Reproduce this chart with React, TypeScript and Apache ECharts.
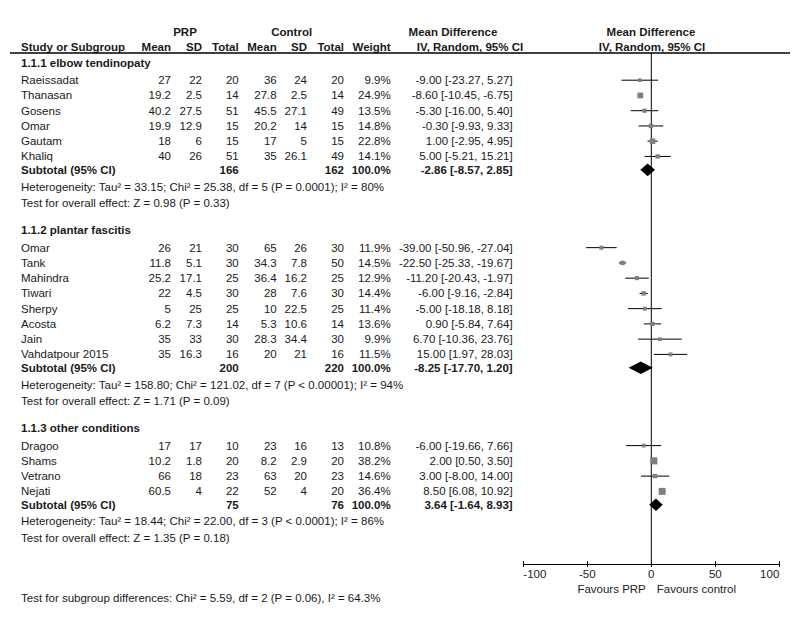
import React, { useEffect, useRef } from "react";
import * as echarts from "echarts";

// ---------- data ----------
const groupTitles = ["1.1.1 elbow tendinopaty", "1.1.2 plantar fascitis", "1.1.3 other conditions"];

const g1Names = ["Raeissadat", "Thanasan", "Gosens", "Omar", "Gautam", "Khaliq"];
const g1PrpMean = [27, 19.2, 40.2, 19.9, 18, 40];
const g1PrpSD = [22, 2.5, 27.5, 12.9, 6, 26];
const g1PrpN = [20, 14, 51, 15, 15, 51];
const g1CtlMean = [36, 27.8, 45.5, 20.2, 17, 35];
const g1CtlSD = [24, 2.5, 27.1, 14, 5, 26.1];
const g1CtlN = [20, 14, 49, 15, 15, 49];
const g1Weight = [9.9, 24.9, 13.5, 14.8, 22.8, 14.1];
const g1MD = [-9.0, -8.6, -5.3, -0.3, 1.0, 5.0];
const g1Lo = [-23.27, -10.45, -16.0, -9.93, -2.95, -5.21];
const g1Hi = [5.27, -6.75, 5.4, 9.33, 4.95, 15.21];

const g2Names = ["Omar", "Tank", "Mahindra", "Tiwari", "Sherpy", "Acosta", "Jain", "Vahdatpour 2015"];
const g2PrpMean = [26, 11.8, 25.2, 22, 5, 6.2, 35, 35];
const g2PrpSD = [21, 5.1, 17.1, 4.5, 25, 7.3, 33, 16.3];
const g2PrpN = [30, 30, 25, 30, 25, 14, 30, 16];
const g2CtlMean = [65, 34.3, 36.4, 28, 10, 5.3, 28.3, 20];
const g2CtlSD = [26, 7.8, 16.2, 7.6, 22.5, 10.6, 34.4, 21];
const g2CtlN = [30, 50, 25, 30, 25, 14, 30, 16];
const g2Weight = [11.9, 14.5, 12.9, 14.4, 11.4, 13.6, 9.9, 11.5];
const g2MD = [-39.0, -22.5, -11.2, -6.0, -5.0, 0.9, 6.7, 15.0];
const g2Lo = [-50.96, -25.33, -20.43, -9.16, -18.18, -5.84, -10.36, 1.97];
const g2Hi = [-27.04, -19.67, -1.97, -2.84, 8.18, 7.64, 23.76, 28.03];

const g3Names = ["Dragoo", "Shams", "Vetrano", "Nejati"];
const g3PrpMean = [17, 10.2, 66, 60.5];
const g3PrpSD = [17, 1.8, 18, 4];
const g3PrpN = [10, 20, 23, 22];
const g3CtlMean = [23, 8.2, 63, 52];
const g3CtlSD = [16, 2.9, 20, 4];
const g3CtlN = [13, 20, 23, 20];
const g3Weight = [10.8, 38.2, 14.6, 36.4];
const g3MD = [-6.0, 2.0, 3.0, 8.5];
const g3Lo = [-19.66, 0.5, -8.0, 6.08];
const g3Hi = [7.66, 3.5, 14.0, 10.92];

const subtotalPrpN = [166, 200, 75];
const subtotalCtlN = [162, 220, 76];
const subtotalMD = [-2.86, -8.25, 3.64];
const subtotalLo = [-8.57, -17.7, -1.64];
const subtotalHi = [2.85, 1.2, 8.93];

const heterogeneityTexts = [
  "Heterogeneity: Tau² = 33.15; Chi² = 25.38, df = 5 (P = 0.0001); I² = 80%",
  "Heterogeneity: Tau² = 158.80; Chi² = 121.02, df = 7 (P < 0.00001); I² = 94%",
  "Heterogeneity: Tau² = 18.44; Chi² = 22.00, df = 3 (P < 0.0001); I² = 86%",
];
const overallEffectTexts = [
  "Test for overall effect: Z = 0.98 (P = 0.33)",
  "Test for overall effect: Z = 1.71 (P = 0.09)",
  "Test for overall effect: Z = 1.35 (P = 0.18)",
];
const subgroupTestText = "Test for subgroup differences: Chi² = 5.59, df = 2 (P = 0.06), I² = 64.3%";

const axisMin = -100;
const axisMax = 100;
const axisInterval = 50;
const favoursLeft = "Favours PRP";
const favoursRight = "Favours control";

// ---------- layout ----------
const W = 800;
const H = 617;
const FONT = "'Liberation Sans', Arial, Helvetica, sans-serif";
const FS = 11.5;
const TXT = "#1a1a1a";
const PLOT_LEFT = 523.3;
const PLOT_RIGHT = 779.3;
const AXIS_Y = 564;
const HEADER_LINE_Y = 53;

const COL = {
  name: 21,
  prpMean: 171,
  prpSD: 202,
  prpN: 238.7,
  ctlMean: 276.7,
  ctlSD: 307,
  ctlN: 344,
  weight: 390.7,
  md: 512.7,
};

type Group = {
  names: string[];
  prpMean: number[];
  prpSD: number[];
  prpN: number[];
  ctlMean: number[];
  ctlSD: number[];
  ctlN: number[];
  weight: number[];
  md: number[];
  lo: number[];
  hi: number[];
};

const groups: Group[] = [
  { names: g1Names, prpMean: g1PrpMean, prpSD: g1PrpSD, prpN: g1PrpN, ctlMean: g1CtlMean, ctlSD: g1CtlSD, ctlN: g1CtlN, weight: g1Weight, md: g1MD, lo: g1Lo, hi: g1Hi },
  { names: g2Names, prpMean: g2PrpMean, prpSD: g2PrpSD, prpN: g2PrpN, ctlMean: g2CtlMean, ctlSD: g2CtlSD, ctlN: g2CtlN, weight: g2Weight, md: g2MD, lo: g2Lo, hi: g2Hi },
  { names: g3Names, prpMean: g3PrpMean, prpSD: g3PrpSD, prpN: g3PrpN, ctlMean: g3CtlMean, ctlSD: g3CtlSD, ctlN: g3CtlN, weight: g3Weight, md: g3MD, lo: g3Lo, hi: g3Hi },
];

const ROW = 15.25;
const FIRST_HEADER_Y = 63;
const HEADER_TO_FIRST = 17.2;
const LAST_TO_SUBTOTAL = 13.4;
const SUBTOTAL_TO_HET = 16.7;
const HET_TO_TEST = 16.3;
const TEST_TO_NEXT = 27.6;
const SUBGROUP_TEST_Y = 598;

function fmt2(v: number) {
  return v.toFixed(2);
}
function ciText(m: number, l: number, h: number) {
  return `${fmt2(m)} [${fmt2(l)}, ${fmt2(h)}]`;
}

function textEl(text: string, x: number, y: number, align: string, bold = false, color = TXT) {
  return {
    type: "text",
    x,
    y,
    silent: true,
    style: {
      text,
      fill: color,
      fontFamily: FONT,
      fontSize: FS,
      fontWeight: bold ? "bold" : "normal",
      align,
      verticalAlign: "middle",
    },
  };
}

export default function App() {
  const ref = useRef<HTMLDivElement>(null);

  useEffect(() => {
    if (!ref.current) return;
    const chart = echarts.init(ref.current, undefined, { renderer: "svg" });

    const graphics: any[] = [];
    const ciData: any[] = [];
    const squareData: any[] = [];
    const diamondData: any[] = [];

    // headers
    graphics.push(textEl("PRP", 185, 32, "center", true));
    graphics.push(textEl("Control", 291.7, 32, "center", true));
    graphics.push(textEl("Mean Difference", 453, 32, "center", true));
    graphics.push(textEl("Mean Difference", 651, 32, "center", true));
    graphics.push(textEl("Study or Subgroup", COL.name, 47, "left", true));
    graphics.push(textEl("Mean", COL.prpMean, 47, "right", true));
    graphics.push(textEl("SD", COL.prpSD, 47, "right", true));
    graphics.push(textEl("Total", COL.prpN, 47, "right", true));
    graphics.push(textEl("Mean", COL.ctlMean, 47, "right", true));
    graphics.push(textEl("SD", COL.ctlSD, 47, "right", true));
    graphics.push(textEl("Total", COL.ctlN, 47, "right", true));
    graphics.push(textEl("Weight", COL.weight, 47, "right", true));
    graphics.push(textEl("IV, Random, 95% CI", 470, 47, "center", true));
    graphics.push(textEl("IV, Random, 95% CI", 652, 47, "center", true));
    graphics.push({
      type: "line",
      silent: true,
      shape: { x1: 10, y1: HEADER_LINE_Y, x2: 790, y2: HEADER_LINE_Y },
      style: { stroke: "#000", lineWidth: 1.5 },
    });

    let y = FIRST_HEADER_Y;
    groups.forEach((g, gi) => {
      graphics.push(textEl(groupTitles[gi], COL.name, y, "left", true));
      y += HEADER_TO_FIRST;
      g.names.forEach((nm, i) => {
        const ry = y + i * ROW;
        graphics.push(textEl(nm, COL.name, ry, "left"));
        graphics.push(textEl(String(g.prpMean[i]), COL.prpMean, ry, "right"));
        graphics.push(textEl(String(g.prpSD[i]), COL.prpSD, ry, "right"));
        graphics.push(textEl(String(g.prpN[i]), COL.prpN, ry, "right"));
        graphics.push(textEl(String(g.ctlMean[i]), COL.ctlMean, ry, "right"));
        graphics.push(textEl(String(g.ctlSD[i]), COL.ctlSD, ry, "right"));
        graphics.push(textEl(String(g.ctlN[i]), COL.ctlN, ry, "right"));
        graphics.push(textEl(g.weight[i].toFixed(1) + "%", COL.weight, ry, "right"));
        graphics.push(textEl(ciText(g.md[i], g.lo[i], g.hi[i]), COL.md, ry, "right"));
        ciData.push([g.lo[i], g.hi[i], ry]);
        squareData.push([g.md[i], ry, g.weight[i]]);
      });
      const last = y + (g.names.length - 1) * ROW;
      const sy = last + LAST_TO_SUBTOTAL;
      graphics.push(textEl("Subtotal (95% CI)", COL.name, sy, "left", true));
      graphics.push(textEl(String(subtotalPrpN[gi]), COL.prpN, sy, "right", true));
      graphics.push(textEl(String(subtotalCtlN[gi]), COL.ctlN, sy, "right", true));
      graphics.push(textEl("100.0%", COL.weight, sy, "right", true));
      graphics.push(textEl(ciText(subtotalMD[gi], subtotalLo[gi], subtotalHi[gi]), COL.md, sy, "right", true));
      diamondData.push([subtotalMD[gi], subtotalLo[gi], subtotalHi[gi], sy]);
      const hy = sy + SUBTOTAL_TO_HET;
      graphics.push(textEl(heterogeneityTexts[gi], COL.name, hy, "left"));
      const ty = hy + HET_TO_TEST;
      graphics.push(textEl(overallEffectTexts[gi], COL.name, ty, "left"));
      y = ty + TEST_TO_NEXT;
    });

    graphics.push(textEl(subgroupTestText, COL.name, SUBGROUP_TEST_Y, "left"));

    const zeroX = PLOT_LEFT + ((0 - axisMin) / (axisMax - axisMin)) * (PLOT_RIGHT - PLOT_LEFT);
    graphics.push(textEl(favoursLeft, zeroX - 5.5, 588.5, "right", false, "#222"));
    graphics.push(textEl(favoursRight, zeroX + 5.5, 588.5, "left", false, "#222"));

    const option: any = {
      animation: false,
      backgroundColor: "#fff",
      grid: {
        left: PLOT_LEFT,
        right: W - PLOT_RIGHT,
        top: 0,
        bottom: H - AXIS_Y,
        containLabel: false,
      },
      xAxis: [
        {
          type: "value",
          position: "bottom",
          min: axisMin,
          max: axisMax,
          interval: axisInterval,
          splitLine: { show: false },
          axisLine: { show: true, onZero: false, lineStyle: { color: "#000", width: 1 } },
          axisTick: { show: true, length: 3, lineStyle: { color: "#000", width: 1 } },
          axisLabel: {
            color: "#222",
            fontSize: FS,
            fontFamily: FONT,
            margin: 4,
            alignMinLabel: "left",
            alignMaxLabel: "right",
          },
        },
        {
          type: "value",
          position: "bottom",
          offset: 0,
          min: axisMin,
          max: axisMax,
          interval: axisInterval,
          splitLine: { show: false },
          axisLine: { show: false, onZero: false },
          axisTick: { show: true, inside: true, length: 3, lineStyle: { color: "#000", width: 1 } },
          axisLabel: { show: false },
        },
      ],
      yAxis: {
        type: "value",
        min: 0,
        max: AXIS_Y,
        inverse: true,
        show: false,
      },
      graphic: graphics,
      series: [
        {
          type: "line",
          data: [
            [0, HEADER_LINE_Y],
            [0, AXIS_Y],
          ],
          symbol: "none",
          silent: true,
          lineStyle: { color: "#000", width: 1 },
          z: 1,
        },
        {
          type: "custom",
          data: ciData,
          encode: { x: [0, 1], y: 2 },
          silent: true,
          z: 2,
          renderItem: (params: any, api: any) => {
            const p1 = api.coord([api.value(0), api.value(2)]);
            const p2 = api.coord([api.value(1), api.value(2)]);
            return {
              type: "line",
              shape: { x1: p1[0], y1: p1[1], x2: p2[0], y2: p2[1] },
              style: { stroke: "#000", lineWidth: 1 },
            };
          },
        },
        {
          type: "scatter",
          data: squareData,
          symbol: "rect",
          symbolSize: (v: number[]) => 1.15 * Math.sqrt(v[2]),
          itemStyle: { color: "#7f7f7f", opacity: 1 },
          silent: true,
          z: 3,
        },
        {
          type: "custom",
          data: diamondData,
          encode: { x: [0, 1, 2], y: 3 },
          silent: true,
          z: 4,
          renderItem: (params: any, api: any) => {
            const yv = api.value(3);
            const c = api.coord([api.value(0), yv]);
            const l = api.coord([api.value(1), yv]);
            const r = api.coord([api.value(2), yv]);
            const h = 6.3;
            return {
              type: "polygon",
              shape: {
                points: [
                  [l[0], c[1]],
                  [c[0], c[1] - h],
                  [r[0], c[1]],
                  [c[0], c[1] + h],
                ],
              },
              style: { fill: "#000" },
            };
          },
        },
      ],
    };

    chart.setOption(option);
    return () => chart.dispose();
  }, []);

  return (
    <div
      ref={ref}
      style={{ position: "fixed", left: 0, top: 0, width: W, height: H, background: "#fff" }}
    />
  );
}
